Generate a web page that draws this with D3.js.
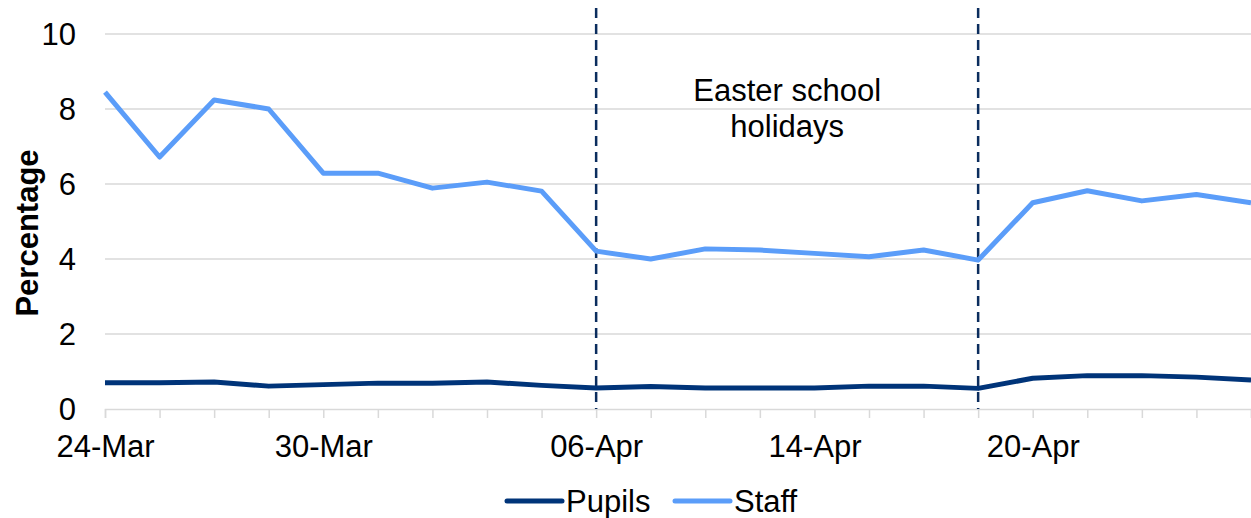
<!DOCTYPE html>
<html><head><meta charset="utf-8">
<script src="https://cdn.jsdelivr.net/npm/d3@7"></script>
<style>
html,body{margin:0;padding:0;background:#fff;}
svg{display:block;font-family:"Liberation Sans",Arial,sans-serif;}
</style></head>
<body>
<svg id="chart" width="1251" height="518"></svg>
<script>
const categories = ["24-Mar","25-Mar","26-Mar","29-Mar","30-Mar","31-Mar","01-Apr","02-Apr","05-Apr","06-Apr","08-Apr","09-Apr","12-Apr","14-Apr","15-Apr","16-Apr","19-Apr","20-Apr","21-Apr","22-Apr","23-Apr","26-Apr"];
const tickLabels = ["24-Mar","30-Mar","06-Apr","14-Apr","20-Apr"];
const pupils = [0.70,0.70,0.72,0.61,0.65,0.69,0.69,0.72,0.63,0.56,0.60,0.56,0.56,0.56,0.61,0.61,0.55,0.82,0.89,0.89,0.85,0.77];
const staff  = [8.45,6.72,8.24,8.00,6.29,6.29,5.89,6.05,5.81,4.21,4.00,4.27,4.24,4.15,4.06,4.24,3.97,5.50,5.82,5.55,5.72,5.50];
const yTicks = [0,2,4,6,8,10];
const holidayBounds = ["06-Apr","19-Apr"];
const annotation = ["Easter school","holidays"];
const seriesNames = ["Pupils","Staff"];
const colors = ["#003479","#5B9DF9"];

const FS = 31;
const svg = d3.select("#chart");
const x = d3.scalePoint().domain(categories).range([105,1251]);
const y = d3.scaleLinear().domain([0,10]).range([409,34]);

// gridlines
svg.append("g").selectAll("line").data(yTicks.filter(d=>d>0)).join("line")
  .attr("x1",105).attr("x2",1251).attr("y1",d=>y(d)).attr("y2",d=>y(d))
  .attr("stroke","#d9d9d9").attr("stroke-width",1.5);

// y labels
svg.append("g").selectAll("text").data(yTicks).join("text")
  .attr("x",76).attr("y",d=>y(d)).attr("dy","0.36em")
  .attr("text-anchor","end").attr("font-size",FS).attr("fill","#000")
  .text(d=>d);

// x axis
const xAxis = d3.axisBottom(x).tickSize(9).tickFormat(d=>tickLabels.includes(d)?d:"");
const gx = svg.append("g").attr("transform","translate(0,409)").call(xAxis);
gx.select(".domain").attr("stroke","#d9d9d9").attr("stroke-width",1.5);
gx.selectAll(".tick line").attr("stroke","#d9d9d9").attr("stroke-width",1.5);
gx.selectAll(".tick text").attr("font-size",FS).attr("fill","#000")
  .attr("font-family","Liberation Sans, Arial, sans-serif").attr("y",48).attr("dy",0);

// y title
svg.append("text").attr("transform","translate(38,233) rotate(-90)")
  .attr("text-anchor","middle").attr("font-size",FS).attr("font-weight","bold").attr("fill","#000")
  .text("Percentage");

// holiday lines
svg.append("g").selectAll("line").data(holidayBounds).join("line")
  .attr("x1",d=>x(d)).attr("x2",d=>x(d)).attr("y1",8).attr("y2",409)
  .attr("stroke","#0b2d5e").attr("stroke-width",2.5).attr("stroke-dasharray","10,6");

// annotation
const ax = (x(holidayBounds[0])+x(holidayBounds[1]))/2;
svg.append("text").attr("x",ax).attr("y",101).attr("text-anchor","middle")
  .attr("font-size",FS).attr("fill","#000")
  .selectAll("tspan").data(annotation).join("tspan")
  .attr("x",ax).attr("dy",(d,i)=>i===0?0:36).text(d=>d);

// lines
const line = d3.line().x((d,i)=>x(categories[i])).y(d=>y(d));
[pupils,staff].forEach((s,k)=>{
  svg.append("path").datum(s).attr("d",line).attr("fill","none")
    .attr("stroke",colors[k]).attr("stroke-width",5).attr("stroke-linejoin","round");
});

// legend
const legendX = [507,675];
seriesNames.forEach((n,k)=>{
  svg.append("line").attr("x1",legendX[k]).attr("x2",legendX[k]+55).attr("y1",501).attr("y2",501)
    .attr("stroke",colors[k]).attr("stroke-width",5).attr("stroke-linecap","round");
  svg.append("text").attr("x",legendX[k]+59).attr("y",512).attr("font-size",FS).attr("fill","#000").text(n);
});
</script>
</body></html>
